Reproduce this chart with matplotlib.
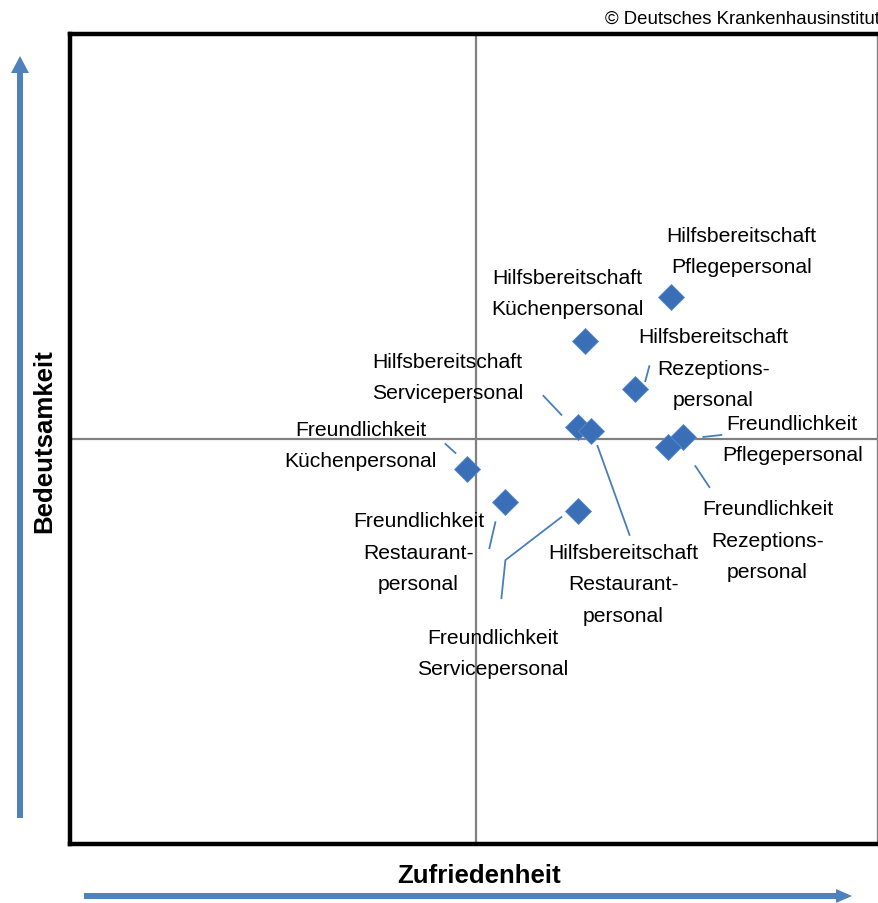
import matplotlib
matplotlib.use("Agg")
import matplotlib.pyplot as plt
from matplotlib.patches import Polygon
from matplotlib.transforms import IdentityTransform

# ---- data (Zufriedenheit = satisfaction, Bedeutsamkeit = importance; centred scale) ----
labels = [
    "Hilfsbereitschaft\nPflegepersonal",
    "Hilfsbereitschaft\nKüchenpersonal",
    "Hilfsbereitschaft\nRezeptions-\npersonal",
    "Hilfsbereitschaft\nServicepersonal",
    "Hilfsbereitschaft\nRestaurant-\npersonal",
    "Freundlichkeit\nPflegepersonal",
    "Freundlichkeit\nRezeptions-\npersonal",
    "Freundlichkeit\nKüchenpersonal",
    "Freundlichkeit\nRestaurant-\npersonal",
    "Freundlichkeit\nServicepersonal",
]
zufriedenheit = [49.0, 27.7, 40.1, 26.0, 29.0, 52.0, 48.3, -1.5, 7.9, 26.0]
bedeutsamkeit = [35.1, 24.2, 12.3, 3.0, 2.0, 0.5, -2.0, -7.4, -15.6, -17.8]
x_mid = 0.5
y_mid = 0.0

# ---- layout: label offsets (pixels, y up) and leader-line paths (pixels, y up) ----
label_offsets = [(70, 46), (-18, 48), (78, 21), (-131, 50), (33, -153),
                 (109, -2), (99, -93), (-107, 24), (-87, -50), (-86, -142)]
leaders = [
    None,
    None,
    [(14, 23), (10, 8)],
    [(-35, 31), (-17, 12)],
    [(7, -15), (39, -104)],
    [(20, 0), (38, 2)],
    [(27, -19), (41, -40)],
    [(-22, 25), (-12, 16)],
    [(-10, -20), (-16, -46)],
    [(-17, -6), (-73, -49), (-77, -87)],
]

W, H = 879, 904
fig = plt.figure(figsize=(W / 100, H / 100), dpi=100)
plt.rcParams['font.family'] = ['Liberation Sans', 'DejaVu Sans']

ax = fig.add_axes([70 / W, (H - 845) / H, (877 - 70) / W, (845 - 35) / H])
ax.set_xlim(-100, 100)
ax.set_ylim(-100, 100)
ax.set_xticks([])
ax.set_yticks([])
for side in ['left', 'top', 'bottom']:
    ax.spines[side].set_linewidth(3.2)
    ax.spines[side].set_color('black')
ax.spines['right'].set_linewidth(1.0)
ax.spines['right'].set_color('#808080')

ax.axvline(x_mid, color='#808080', lw=1.6, zorder=1)
ax.axhline(y_mid, color='#808080', lw=1.6, zorder=1)

ax.scatter(zufriedenheit, bedeutsamkeit, marker='D', s=175, color='#3a6fb7',
           edgecolors='#5a8ccc', linewidths=0.6, zorder=4)

fig.canvas.draw()
for i, lab in enumerate(labels):
    ax.annotate(lab, (zufriedenheit[i], bedeutsamkeit[i]),
                xytext=label_offsets[i], textcoords='offset pixels',
                ha='center', va='center', multialignment='center',
                fontsize=15.2, linespacing=1.83, color='black', zorder=5)
    if leaders[i]:
        px, py = ax.transData.transform((zufriedenheit[i], bedeutsamkeit[i]))
        xs = [px + dx for dx, dy in leaders[i]]
        ys = [py + dy for dx, dy in leaders[i]]
        ax.plot(xs, ys, transform=IdentityTransform(), color='#4a7ebb', lw=1.3,
                zorder=3, clip_on=False)

# axis titles
fig.text(44 / W, 1 - 441 / H, "Bedeutsamkeit", rotation=90, ha='center', va='center',
         fontsize=18.6, fontweight='bold')
fig.text(479 / W, 1 - 876 / H, "Zufriedenheit", ha='center', va='center',
         fontsize=18.6, fontweight='bold')
fig.text(605 / W, 1 - 19 / H, "© Deutsches Krankenhausinstitut", ha='left', va='center',
         fontsize=13.4)

# arrows (pixel coords, y up)
def arrow_poly(pts):
    return Polygon([(x, H - y) for x, y in pts], closed=True, transform=IdentityTransform(),
                   facecolor='#4f81bd', edgecolor='none')

v = [(17, 819), (23, 819), (23, 74), (29, 74), (20, 57), (11, 74), (17, 74)]
h = [(84, 894), (836, 894), (836, 890), (852, 897), (836, 904), (836, 900), (84, 900)]
fig.patches.append(arrow_poly(v))
fig.patches.append(arrow_poly(h))

fig.savefig("out.png", dpi=100)
